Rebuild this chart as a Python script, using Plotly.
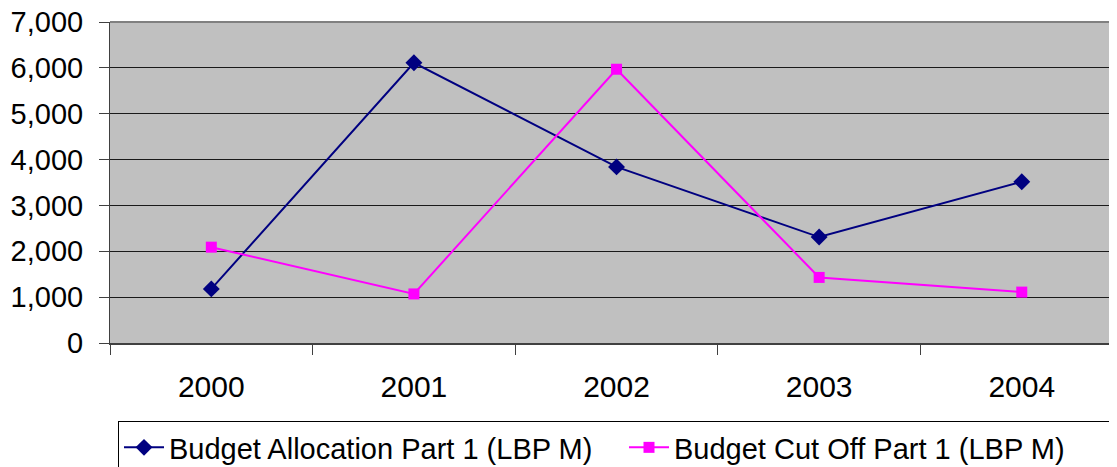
import plotly.graph_objects as go

years = ["2000", "2001", "2002", "2003", "2004"]
allocation = [1180, 6110, 3840, 2310, 3515]
cut_off = [2090, 1070, 5970, 1430, 1110]
y_ticks = [0, 1000, 2000, 3000, 4000, 5000, 6000, 7000]

FONT = "Liberation Sans, Arial, sans-serif"

fig = go.Figure()
fig.add_trace(go.Scatter(
    x=years, y=allocation, mode="lines+markers",
    name="Budget Allocation Part 1 (LBP M)",
    line=dict(color="#000080", width=2),
    marker=dict(symbol="diamond", size=13, color="#000080"),
))
fig.add_trace(go.Scatter(
    x=years, y=cut_off, mode="lines+markers",
    name="Budget Cut Off Part 1 (LBP M)",
    line=dict(color="#FF00FF", width=2),
    marker=dict(symbol="square", size=11, color="#FF00FF"),
))

# page body has an 8px default margin; figure is offset accordingly
W, H = 1109, 490
fig.update_layout(
    width=W, height=H, autosize=False,
    margin=dict(l=102, r=0, t=14, b=155),
    paper_bgcolor="white", plot_bgcolor="#C0C0C0",
    font=dict(family=FONT, size=30, color="black"),
    showlegend=True,
    legend=dict(
        orientation="h", xref="container", yref="container",
        x=110 / W, xanchor="left", y=(H - 413) / H, yanchor="top",
        bgcolor="white", bordercolor="black", borderwidth=1,
        font=dict(family=FONT, size=29, color="black"),
        itemwidth=40, tracegroupgap=0,
        entrywidth=450, entrywidthmode="pixels",
    ),
)
fig.update_xaxes(
    type="category", range=[-0.5, 4.47], automargin=False,
    showgrid=False, showline=True, linecolor="#404040", linewidth=2,
    ticks="outside", tickson="boundaries", ticklen=10, tickcolor="#404040",
    ticklabelstandoff=16, zeroline=False, tickfont=dict(size=30),
)
fig.update_yaxes(
    range=[0, 7000], tickvals=y_ticks, tickformat=",", automargin=False,
    showgrid=True, gridcolor="#1a1a1a", gridwidth=1,
    showline=True, linecolor="#404040", linewidth=1,
    ticks="outside", ticklen=10, tickcolor="#404040",
    ticklabelstandoff=10, zeroline=False, tickfont=dict(size=29),
    ticklabeloverflow="allow",
)
fig.add_shape(type="line", xref="paper", yref="paper", x0=0, x1=1, y0=1, y1=1,
              line=dict(color="#808080", width=2))

fig.write_html("out.html")
